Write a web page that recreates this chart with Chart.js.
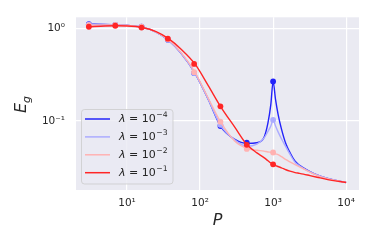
<!DOCTYPE html>
<html>
<head>
<meta charset="utf-8">
<script src="https://cdn.jsdelivr.net/npm/chart.js@4.4.1/dist/chart.umd.min.js"></script>
<style>
html,body{margin:0;padding:0;background:#fff}
#wrap{width:374px;height:249px}
</style>
</head>
<body>
<div id="wrap"><canvas id="c" width="374" height="249"></canvas></div>
<script>
// E_g vs P, log-log, four ridge values
const LAMBDA_EXP = ['-4', '-3', '-2', '-1'];
const COLORS = ['rgb(35,35,250)', 'rgb(172,172,255)', 'rgb(255,178,178)', 'rgb(255,38,38)'];

// theory curves
const P_LINE = [3, 5, 7, 10, 16, 25, 37, 55, 85, 130, 190, 300, 440, 600, 750, 850, 930, 1000, 1080, 1170, 1300, 1500, 1700, 2000, 2300, 2600, 3200, 4000, 5600, 7500, 10000];
const LINE_1e4 = [1.12, 1.11, 1.10, 1.09, 1.04, 0.92, 0.75, 0.54, 0.33, 0.17, 0.088, 0.063, 0.057, 0.058, 0.066, 0.095, 0.15, 0.268, 0.17, 0.118, 0.082, 0.056, 0.0455, 0.0365, 0.033, 0.031, 0.0282, 0.026, 0.0237, 0.0225, 0.0215];
const LINE_1e3 = [1.11, 1.10, 1.10, 1.09, 1.04, 0.92, 0.75, 0.54, 0.33, 0.17, 0.09, 0.062, 0.053, 0.056, 0.065, 0.077, 0.088, 0.1025, 0.088, 0.076, 0.064, 0.052, 0.0435, 0.0355, 0.0325, 0.0305, 0.028, 0.026, 0.0237, 0.0225, 0.0215];
const LINE_1e2 = [1.09, 1.10, 1.10, 1.09, 1.04, 0.92, 0.76, 0.55, 0.338, 0.175, 0.098, 0.06, 0.05, 0.048, 0.047, 0.046, 0.0457, 0.0454, 0.044, 0.043, 0.041, 0.038, 0.036, 0.0335, 0.0318, 0.0302, 0.0278, 0.0257, 0.0236, 0.0224, 0.0215];
const LINE_1e1 = [1.05, 1.07, 1.075, 1.07, 1.03, 0.93, 0.78, 0.6, 0.415, 0.24, 0.144, 0.085, 0.055, 0.045, 0.04, 0.037, 0.035, 0.0338, 0.0328, 0.032, 0.031, 0.0295, 0.0285, 0.0275, 0.027, 0.0265, 0.0255, 0.0245, 0.0231, 0.0222, 0.0215];

// simulation markers
const P_POINTS = [3, 6.9, 15.8, 36.2, 82.9, 190, 436, 1000];
const PTS_1e4 = [1.12, 1.10, 1.05, 0.76, 0.33, 0.088, 0.058, 0.268];
const PTS_1e3 = [1.11, 1.10, 1.05, 0.76, 0.33, 0.0906, 0.0525, 0.1025];
const PTS_1e2 = [1.09, 1.10, 1.05, 0.77, 0.338, 0.098, 0.0497, 0.0454];
const PTS_1e1 = [1.05, 1.077, 1.03, 0.78, 0.415, 0.144, 0.055, 0.0338];

const X_TICKS = [10, 100, 1000, 10000];
const Y_TICKS = [0.1, 1];

const lines = [LINE_1e4, LINE_1e3, LINE_1e2, LINE_1e1];
const points = [PTS_1e4, PTS_1e3, PTS_1e2, PTS_1e1];

const SUP = {'0':'⁰','1':'¹','2':'²','3':'³','4':'⁴','-':'⁻'};
function powLabel(v){
  const e = Math.round(Math.log10(v));
  return '10' + String(e).split('').map(c=>SUP[c]).join('');
}

const datasets = [];
lines.forEach((arr, i)=>{
  datasets.push({
    label: 'lam' + LAMBDA_EXP[i],
    data: arr.map((y, k)=>({x: P_LINE[k], y})),
    borderColor: COLORS[i], borderWidth: 1.4,
    pointRadius: 0, cubicInterpolationMode: 'monotone',
    order: 2*(3-i)+1
  });
  datasets.push({
    label: 'pts' + LAMBDA_EXP[i],
    data: points[i].map((y, k)=>({x: P_POINTS[k], y})),
    showLine: false, backgroundColor: COLORS[i], borderColor: COLORS[i],
    pointRadius: 2.9, pointBorderWidth: 0,
    order: 2*(3-i)
  });
});

const FONT = '"DejaVu Sans", sans-serif';

const bgPlugin = {
  id: 'bg',
  beforeDraw(chart){
    const {ctx, chartArea: a} = chart;
    ctx.save();
    ctx.fillStyle = '#eaeaf2';
    ctx.fillRect(a.left, a.top, a.right - a.left, a.bottom - a.top);
    ctx.restore();
  }
};

function drawPow(ctx, x, y, exp, size){
  // "λ = 10^exp", left aligned at x, middle at y
  ctx.textBaseline = 'middle';
  ctx.textAlign = 'left';
  ctx.font = 'italic ' + size + 'px ' + FONT;
  ctx.fillText('λ', x, y);
  x += ctx.measureText('λ').width;
  ctx.font = size + 'px ' + FONT;
  ctx.fillText(' = 10', x, y);
  x += ctx.measureText(' = 10').width;
  ctx.font = (size*0.7) + 'px ' + FONT;
  ctx.fillText(exp.replace('-', '−'), x + 0.5, y - size*0.38);
}

const overlayPlugin = {
  id: 'overlay',
  afterDraw(chart){
    const {ctx} = chart;
    ctx.save();
    // legend box
    const bx = 81.5, by = 109.5, bw = 91.5, bh = 74.5;
    ctx.beginPath();
    ctx.roundRect(bx, by, bw, bh, 3);
    ctx.fillStyle = 'rgba(234,234,242,0.8)';
    ctx.fill();
    ctx.strokeStyle = 'rgba(204,204,204,0.8)';
    ctx.lineWidth = 1;
    ctx.stroke();
    LAMBDA_EXP.forEach((e, i)=>{
      const y = 119 + i*17.9;
      ctx.strokeStyle = COLORS[i];
      ctx.lineWidth = 1.5;
      ctx.beginPath(); ctx.moveTo(85, y); ctx.lineTo(110, y); ctx.stroke();
      ctx.fillStyle = '#262626';
      drawPow(ctx, 119, y, e, 11);
    });
    // axis titles
    ctx.fillStyle = '#262626';
    ctx.font = 'italic 16px ' + FONT;
    ctx.textAlign = 'center';
    ctx.textBaseline = 'middle';
    ctx.fillText('P', 217.5, 221);
    ctx.translate(22, 104);
    ctx.rotate(-Math.PI/2);
    ctx.textAlign = 'left';
    ctx.fillText('E', -9, 0);
    const w = ctx.measureText('E').width;
    ctx.font = 'italic 11px ' + FONT;
    ctx.fillText('g', -9 + w, 5);
    ctx.restore();
  }
};

new Chart(document.getElementById('c'), {
  type: 'line',
  data: {datasets},
  options: {
    responsive: false, animation: false, devicePixelRatio: 1,
    layout: {padding: {left: 0, right: 15, top: 15, bottom: 0}},
    plugins: {legend: {display: false}, tooltip: {enabled: false}},
    scales: {
      x: {
        type: 'logarithmic', min: 2, max: 15000,
        afterBuildTicks: s => { s.ticks = X_TICKS.map(v=>({value: v})); },
        afterFit: s => { s.height = 59; },
        grid: {color: '#ffffff', lineWidth: 1.2, drawTicks: false},
        border: {display: false},
        ticks: {callback: v => powLabel(v), color: '#262626', font: {family: FONT, size: 10.5}, padding: 7, maxRotation: 0, autoSkip: false}
      },
      y: {
        type: 'logarithmic', min: 0.0178, max: 1.33,
        afterBuildTicks: s => { s.ticks = Y_TICKS.map(v=>({value: v})); },
        afterFit: s => { s.width = 76; },
        grid: {color: '#ffffff', lineWidth: 1.2, drawTicks: false},
        border: {display: false},
        ticks: {callback: v => powLabel(v), color: '#262626', font: {family: FONT, size: 10.5}, padding: 11, autoSkip: false}
      }
    }
  },
  plugins: [bgPlugin, overlayPlugin]
});
</script>
</body>
</html>
